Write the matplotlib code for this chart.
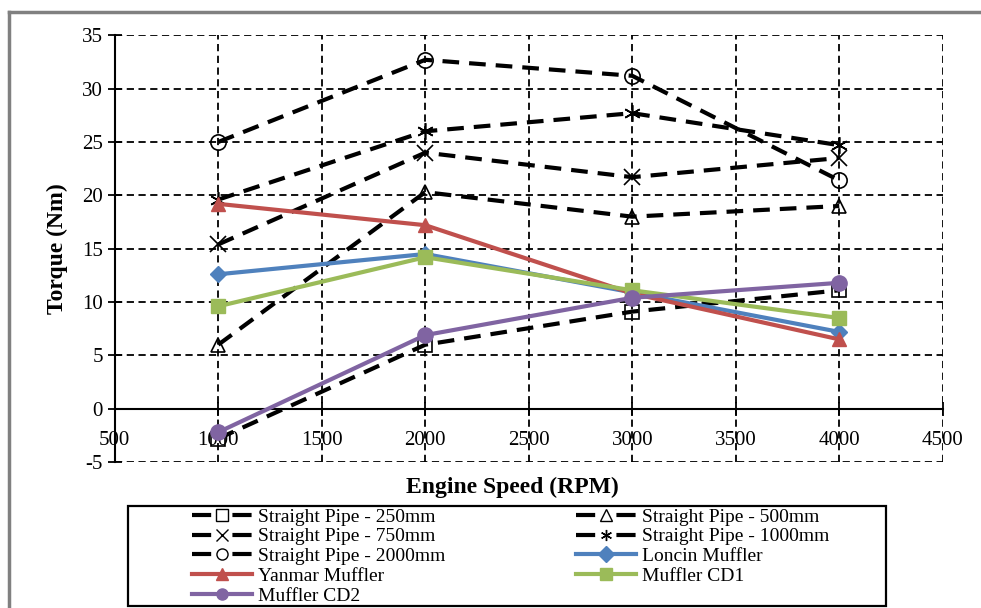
import matplotlib.pyplot as plt
import matplotlib.lines as mlines
import matplotlib.patches as mpatches

plt.rcParams['font.family'] = ['Liberation Serif', 'DejaVu Serif']
plt.rcParams['axes.unicode_minus'] = False

speeds = [1000, 2000, 3000, 4000]

pipe_250 = [-2.8, 6.0, 9.1, 11.1]
pipe_500 = [6.0, 20.3, 18.0, 19.0]
pipe_750 = [15.4, 24.0, 21.7, 23.5]
pipe_1000 = [19.6, 26.0, 27.7, 24.7]
pipe_2000 = [25.0, 32.7, 31.2, 21.4]
loncin = [12.6, 14.5, 10.9, 7.2]
yanmar = [19.2, 17.2, 10.8, 6.5]
cd1 = [9.6, 14.2, 11.1, 8.5]
cd2 = [-2.2, 6.9, 10.4, 11.8]

x_ticks = [500, 1000, 1500, 2000, 2500, 3000, 3500, 4000, 4500]
y_ticks = [-5, 0, 5, 10, 15, 20, 25, 30, 35]

W, H = 981, 608
fig = plt.figure(figsize=(W / 100, H / 100), dpi=100)
ax = fig.add_axes([0.117, 0.240, 0.844, 0.702])

dash = (0, (4, 2.4))
handles = {}

def pipe(y, marker, label, ms=10):
    l, = ax.plot(speeds, y, color='black', lw=3, linestyle=dash, marker=marker,
                 markersize=ms, markerfacecolor='none', markeredgecolor='black',
                 markeredgewidth=1.2, label=label, zorder=3)
    handles[label] = l

def muffler(y, marker, color, label, ms=10):
    l, = ax.plot(speeds, y, color=color, lw=3, marker=marker, markersize=ms,
                 markerfacecolor=color, markeredgecolor=color, label=label, zorder=4)
    handles[label] = l

pipe(pipe_250, 's', 'Straight Pipe - 250mm')
pipe(pipe_500, '^', 'Straight Pipe - 500mm')
pipe(pipe_750, 'x', 'Straight Pipe - 750mm', ms=11)
pipe(pipe_1000, (6, 2, 0), 'Straight Pipe - 1000mm', ms=12)
pipe(pipe_2000, 'o', 'Straight Pipe - 2000mm', ms=11)
muffler(loncin, 'D', '#4F81BD', 'Loncin Muffler', ms=8)
muffler(yanmar, '^', '#C0504D', 'Yanmar Muffler')
muffler(cd1, 's', '#9BBB59', 'Muffler CD1')
muffler(cd2, 'o', '#8064A2', 'Muffler CD2', ms=11)

ax.set_xlim(500, 4500)
ax.set_ylim(-5, 35)
ax.set_xticks(x_ticks)
ax.set_yticks(y_ticks)
ax.grid(True, color='black', linestyle=(0, (4, 2.5)), lw=1.3, zorder=1)
ax.set_axisbelow(True)

for s in ['top', 'right']:
    ax.spines[s].set_visible(False)
ax.spines['bottom'].set_position(('data', 0))
ax.spines['bottom'].set_linewidth(1.5)
ax.spines['left'].set_linewidth(1.5)
ax.tick_params(axis='both', direction='inout', length=10, width=1.3, labelsize=15)
ax.tick_params(axis='x', pad=11)

ax.set_ylabel('Torque (Nm)', fontsize=17, fontweight='bold', labelpad=10)
fig.text(512 / W, 1 - 487 / H, 'Engine Speed (RPM)', fontsize=17, fontweight='bold',
         ha='center', va='center')

# legend box drawn by hand, entries inside without frame
fig.add_artist(mpatches.Rectangle((128 / W, 1 - 606 / H), 758 / W, 100 / H,
                                  transform=fig.transFigure, facecolor='white',
                                  edgecolor='black', lw=1.6, zorder=5))

order = ['Straight Pipe - 250mm', 'Straight Pipe - 750mm', 'Straight Pipe - 2000mm',
         'Yanmar Muffler', 'Muffler CD2',
         'Straight Pipe - 500mm', 'Straight Pipe - 1000mm', 'Loncin Muffler',
         'Muffler CD1']
leg_handles = []
for name in order:
    h = handles[name]
    black = h.get_color() == 'black'
    leg_handles.append(mlines.Line2D([], [], color=h.get_color(), lw=3,
                                     linestyle=(0, (4.6, 5.1)) if black else '-',
                                     marker=h.get_marker(),
                                     markersize=8,
                                     markerfacecolor=h.get_markerfacecolor(),
                                     markeredgecolor=h.get_markeredgecolor()))
leg = fig.legend(leg_handles, order, ncol=2, loc='upper left',
                 bbox_to_anchor=(192 / W, 1 - 508 / H), borderaxespad=0,
                 fontsize=14, frameon=False,
                 handlelength=3.1, handletextpad=0.3, labelspacing=0.11,
                 borderpad=0, columnspacing=6.7)
leg.set_zorder(6)

# grey outer frame (left and top)
fig.add_artist(mlines.Line2D([0.009, 0.009], [0, 0.981], color='grey', lw=2.5,
                             transform=fig.transFigure))
fig.add_artist(mlines.Line2D([0.009, 1.0], [0.981, 0.981], color='grey', lw=2.5,
                             transform=fig.transFigure))

fig.savefig('out.png', dpi=100)
